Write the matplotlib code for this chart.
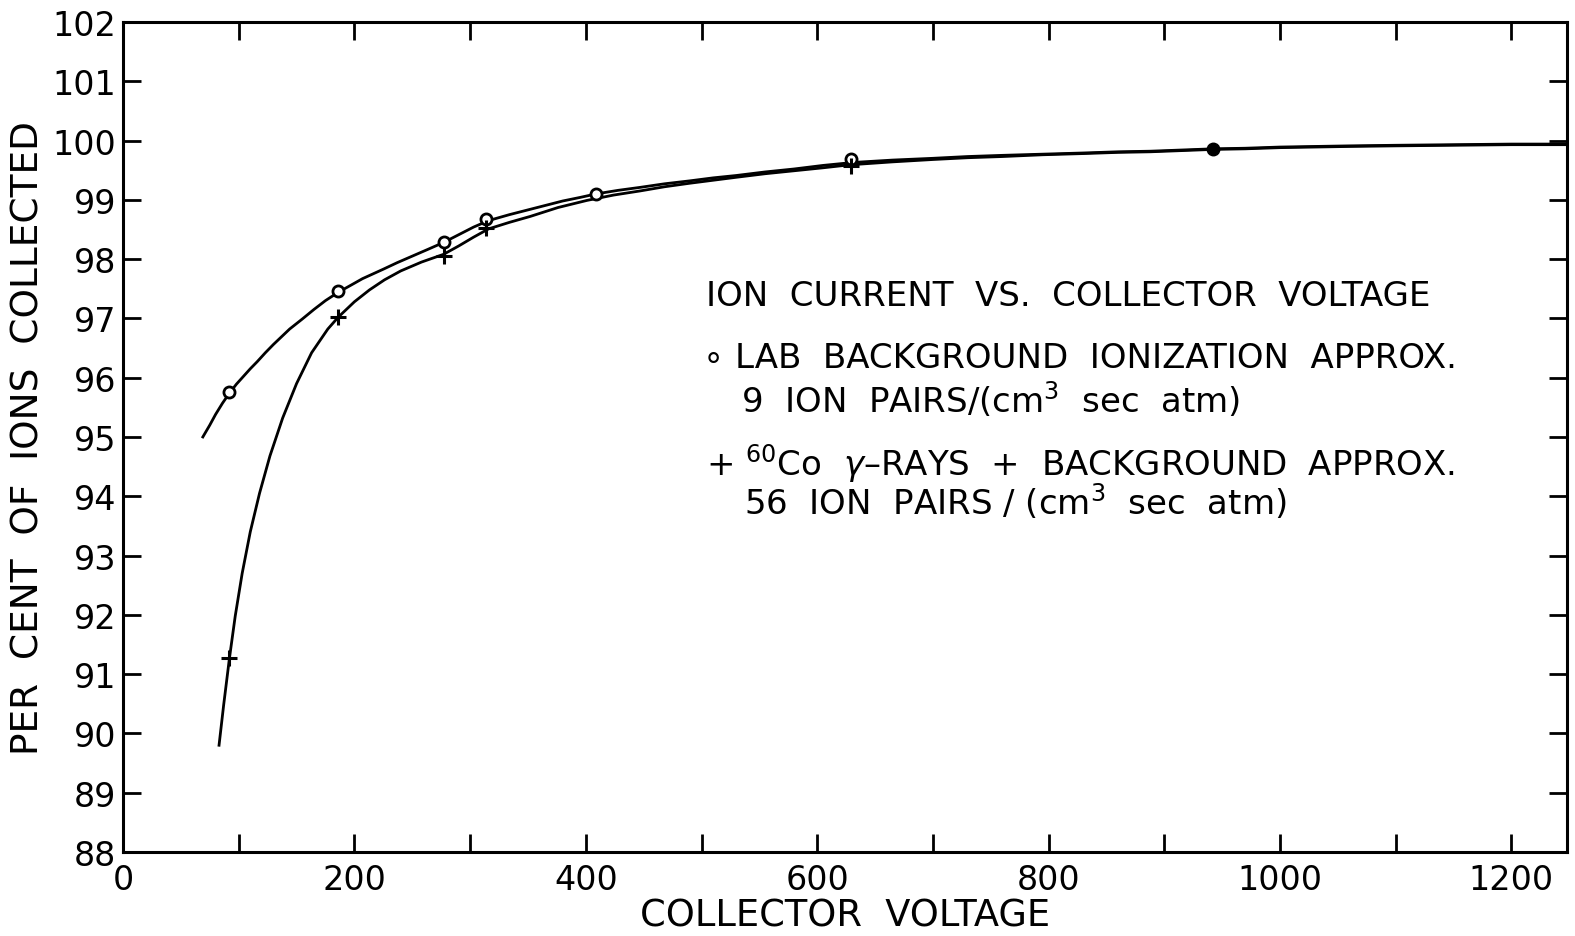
import numpy as np
import matplotlib
matplotlib.use("Agg")
import matplotlib.pyplot as plt
from matplotlib.ticker import MultipleLocator

plt.rcParams["font.family"] = ["DejaVu Sans"]
plt.rcParams["mathtext.default"] = "regular"

# measured points, lab background only
volt_bg = [92, 186, 277, 314, 409, 629]
pct_bg = [95.75, 97.46, 98.29, 98.68, 99.10, 99.68]

# measured points, 60Co gamma rays + background
volt_co = [92, 186, 277, 314, 629]
pct_co = [91.27, 97.02, 98.06, 98.52, 99.57]

# both runs fall on the same value here
volt_both = [942]
pct_both = [99.86]

# hand-drawn curves through the points
curve_bg_x = [69, 75, 80, 86, 92, 98, 104, 110, 116, 123, 130, 137, 144, 155,
              165, 175, 186, 197, 207, 216, 225, 237, 250, 263, 277, 290, 303,
              316, 334, 352, 366, 380, 395, 409, 428, 447, 468, 490, 510, 530,
              555, 580, 605, 631, 665, 700, 730, 760, 795, 830, 860, 888, 915,
              942, 970, 1000, 1030, 1060, 1100, 1150, 1200, 1248]
curve_bg_y = [95.00, 95.20, 95.38, 95.57, 95.74, 95.89, 96.02, 96.15, 96.27,
              96.42, 96.56, 96.69, 96.82, 96.99, 97.15, 97.30, 97.44, 97.56,
              97.67, 97.75, 97.83, 97.94, 98.05, 98.16, 98.28, 98.41, 98.54,
              98.65, 98.75, 98.84, 98.91, 98.98, 99.04, 99.10, 99.16, 99.21,
              99.27, 99.32, 99.37, 99.41, 99.47, 99.52, 99.58, 99.63, 99.67,
              99.70, 99.73, 99.75, 99.77, 99.79, 99.81, 99.82, 99.84, 99.86,
              99.87, 99.89, 99.90, 99.91, 99.92, 99.93, 99.94, 99.94]

curve_co_x = [83, 87, 92, 97, 103, 110, 118, 127, 138, 150, 163, 177, 186, 200,
              213, 226, 240, 258, 277, 290, 303, 316, 334, 352, 376, 401, 424,
              447, 468, 490, 510, 530, 555, 580, 605, 628, 665, 700, 730, 760,
              795, 830, 860, 888, 915, 942, 970, 1000, 1030, 1060, 1100, 1150,
              1200, 1248]
curve_co_y = [89.80, 90.48, 91.27, 91.98, 92.70, 93.40, 94.05, 94.68, 95.32,
              95.90, 96.42, 96.82, 97.02, 97.28, 97.48, 97.65, 97.80, 97.95,
              98.08, 98.22, 98.37, 98.51, 98.62, 98.72, 98.87, 98.99, 99.08,
              99.15, 99.22, 99.28, 99.33, 99.38, 99.44, 99.49, 99.54, 99.59,
              99.64, 99.68, 99.71, 99.73, 99.76, 99.78, 99.80, 99.81, 99.83,
              99.85, 99.86, 99.88, 99.89, 99.90, 99.91, 99.92, 99.93, 99.93]

fig = plt.figure(figsize=(15.75, 9.37), dpi=100)
ax = fig.add_axes([0.0781, 0.0897, 0.9168, 0.8858])

ax.plot(curve_bg_x, curve_bg_y, color="black", lw=2.0)
ax.plot(curve_co_x, curve_co_y, color="black", lw=2.0)

ax.plot(volt_bg, pct_bg, "o", ms=8, mfc="white", mec="black", mew=2, zorder=3)
ax.plot(volt_co, pct_co, "+", ms=12, mec="black", mew=2.2, zorder=3)
ax.plot(volt_both, pct_both, "o", ms=9, mfc="black", mec="black", zorder=3)

ax.set_xlim(0, 1248)
ax.set_ylim(88, 102)
ax.xaxis.set_major_locator(MultipleLocator(200))
ax.xaxis.set_minor_locator(MultipleLocator(100))
ax.yaxis.set_major_locator(MultipleLocator(1))

ax.tick_params(which="both", direction="in", top=True, right=True,
               length=13, width=2, labelsize=24, pad=5)
ax.tick_params(axis="x", pad=8)
for sp in ax.spines.values():
    sp.set_linewidth(2.2)

ax.set_xlabel("COLLECTOR  VOLTAGE", fontsize=26.5, labelpad=0)
ax.set_ylabel("PER  CENT  OF  IONS  COLLECTED", fontsize=27, labelpad=4)

fs = 24.5
ax.text(0.404, 0.670, "ION  CURRENT  VS.  COLLECTOR  VOLTAGE",
        transform=ax.transAxes, fontsize=fs, va="center")
ax.text(0.402, 0.596, "\u2218 LAB  BACKGROUND  IONIZATION  APPROX.",
        transform=ax.transAxes, fontsize=fs, va="center")
ax.text(0.428, 0.546, "9  ION  PAIRS/(cm$^3$  sec  atm)",
        transform=ax.transAxes, fontsize=fs, va="center")
ax.text(0.404, 0.469, "+ $^{60}$Co  $\\mathit{\\gamma}$\u2013RAYS  +  BACKGROUND  APPROX.",
        transform=ax.transAxes, fontsize=fs, va="center")
ax.text(0.430, 0.423, "56  ION  PAIRS / (cm$^3$  sec  atm)",
        transform=ax.transAxes, fontsize=fs, va="center")

fig.savefig("out.png", dpi=100)
